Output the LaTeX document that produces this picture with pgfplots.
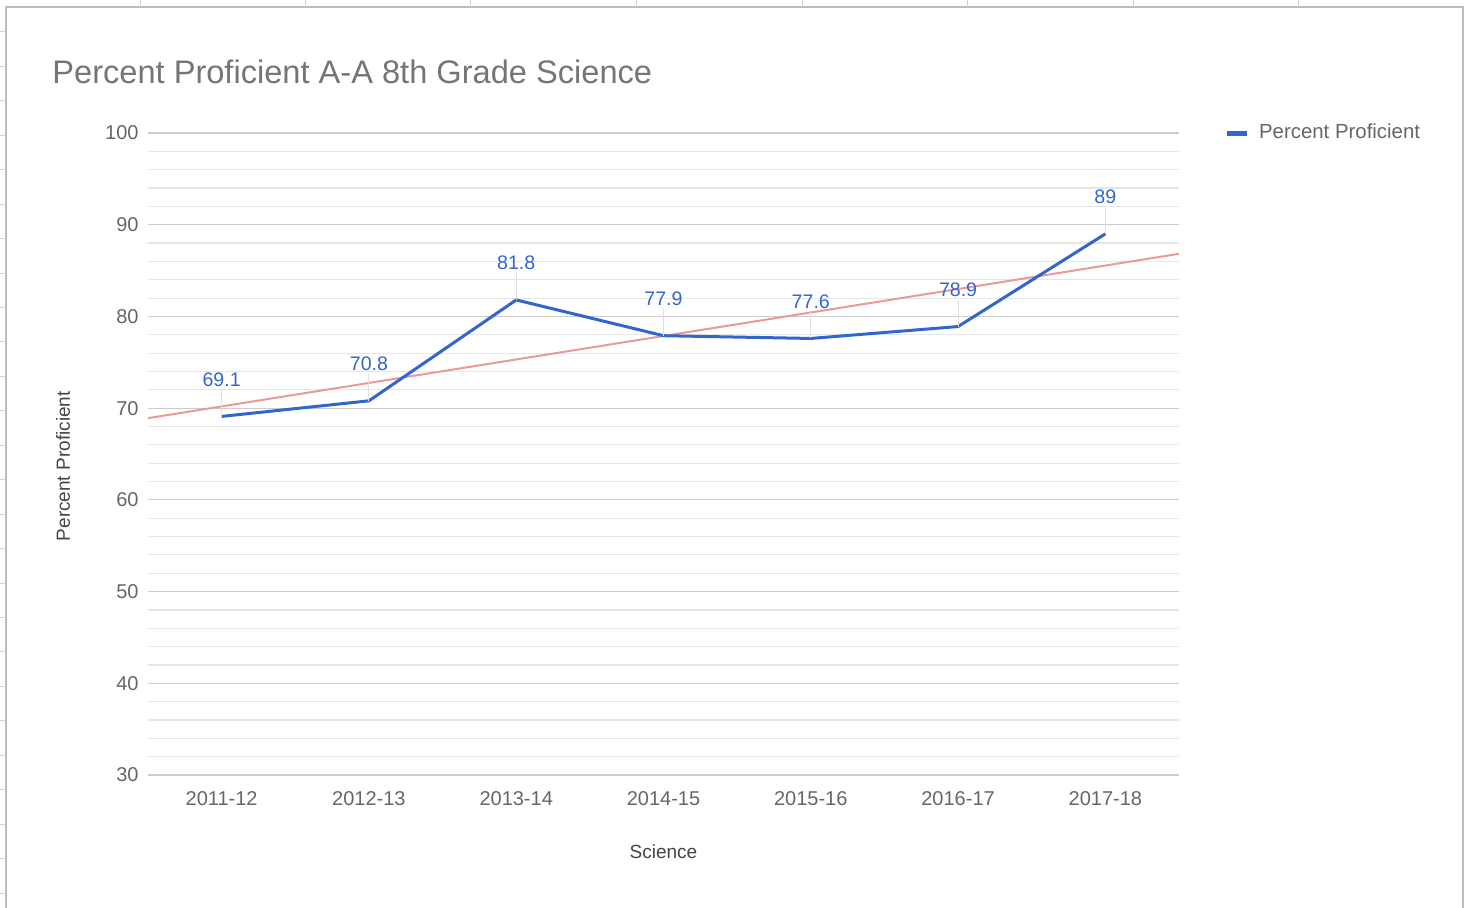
\documentclass[border=0pt]{standalone}
\usepackage{pgfplots}
\pgfplotsset{compat=1.18}
\usepackage{fontspec}
\setmainfont{Liberation Sans}
\definecolor{titlegray}{HTML}{757575}
\definecolor{tickgray}{HTML}{666666}
\definecolor{labelgray}{HTML}{444444}
\definecolor{serieblue}{HTML}{3366CC}
\definecolor{trendred}{HTML}{EA9999}
\definecolor{majorgrid}{HTML}{CCCCCC}
\definecolor{minorgrid}{HTML}{E6E6E6}
\definecolor{framegray}{HTML}{BDBDBD}
\begin{document}
\begin{tikzpicture}[x=0.5pt,y=0.5pt]
\path[use as bounding box] (0,0) rectangle (1465,907);
% spreadsheet frame round the chart
\draw[framegray, line width=1pt] (6,-5) -- (6,900) -- (1463,900) -- (1463,-5);
\foreach \x in {140,305,470,636,802,967,1133,1298}
  \draw[framegray!70, line width=0.5pt] (\x,900) -- (\x,907);
\foreach \k in {0,...,25}
  \draw[framegray!70, line width=0.5pt] (0,{875-34.44*\k}) -- (6,{875-34.44*\k});
\node[anchor=west, text=titlegray, font=\fontsize{16.3}{18}\selectfont, inner sep=0pt]
  at (52,835) {Percent Proficient A-A 8th Grade Science};
\begin{axis}[
  at={(74pt,66pt)}, anchor=south west,
  scale only axis, width=515.5pt, height=321pt,
  xmin=-0.5, xmax=6.5, ymin=30, ymax=100,
  xtick={0,...,6},
  xticklabels={2011-12,2012-13,2013-14,2014-15,2015-16,2016-17,2017-18},
  ytick={30,40,...,100}, minor y tick num=4,
  axis line style={draw=none},
  major tick length=0pt, minor tick length=0pt,
  ymajorgrids, yminorgrids,
  major grid style={majorgrid, line width=0.6pt},
  minor grid style={minorgrid, line width=0.6pt},
  /pgf/number format/assume math mode=true,
  tick label style={font=\fontsize{10}{12}\selectfont, text=tickgray},
  xticklabel style={yshift=-4.5pt},
  yticklabel style={xshift=-1.2pt},
  xlabel={Science}, ylabel={Percent Proficient},
  label style={font=\fontsize{9.5}{11}\selectfont, text=labelgray},
  xlabel style={at={(axis description cs:0.5,-0.12)}, anchor=center},
  ylabel style={at={(axis description cs:-0.0824,0.481)}, anchor=center},
  legend style={at={(axis description cs:1.038,1)}, anchor=west, draw=none, fill=none,
    font=\fontsize{10.2}{12}\selectfont, text=tickgray},
  legend cell align=left,
  legend image code/.code={\draw[#1, line width=2.5pt] (0pt,0pt) -- (10pt,0pt);
    \path[draw=none] (0pt,0pt) -- (14pt,0pt);},
]
\addplot[trendred, line width=1pt, forget plot] coordinates {(-0.5,68.91) (6.5,86.83)};
\addplot[serieblue, line width=1.5pt, mark=none,
  nodes near coords,
  nodes near coords style={text=serieblue, anchor=center, yshift=18.5pt,
    font=\fontsize{9.8}{12}\selectfont},
  error bars/.cd, y dir=plus, y fixed=2.9,
  error mark=none, error bar style={black!12, line width=0.5pt},
] coordinates {(0,69.1) (1,70.8) (2,81.8) (3,77.9) (4,77.6) (5,78.9) (6,89)};
\addlegendentry{Percent Proficient}
\end{axis}
\end{tikzpicture}
\end{document}
